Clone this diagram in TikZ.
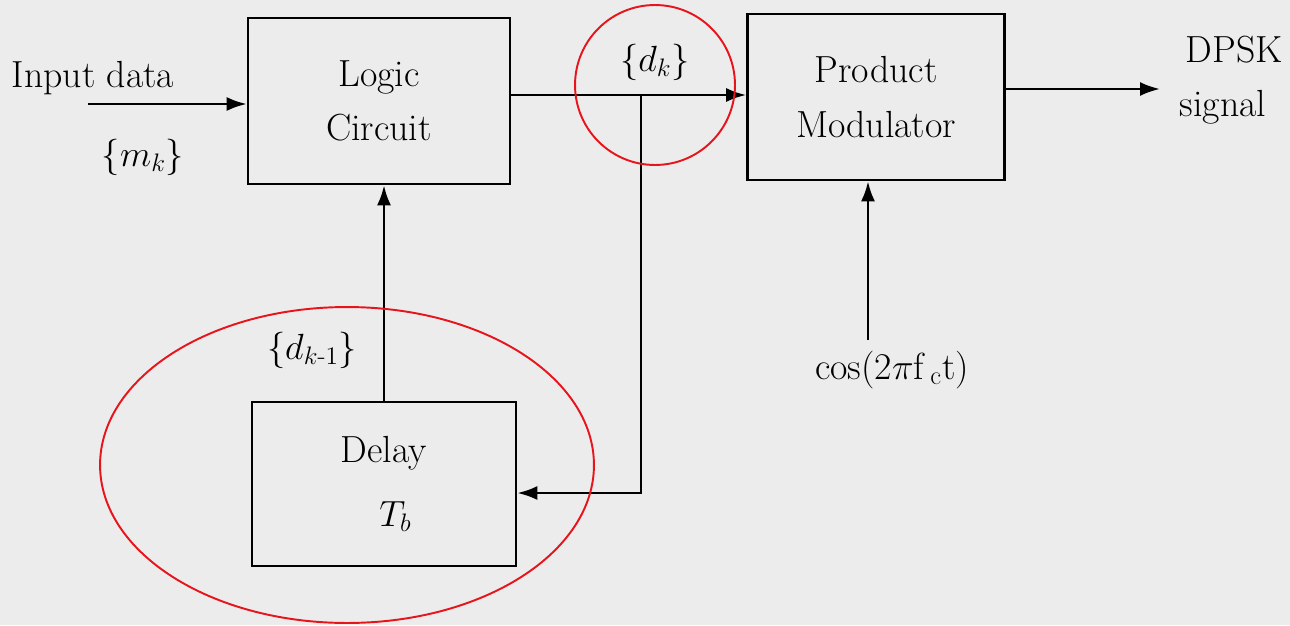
\documentclass[tikz,border=0pt]{standalone}
\usepackage{amsmath}
\usepackage{tikz}
\usetikzlibrary{arrows.meta,positioning,calc}
\definecolor{pagegray}{HTML}{ECECEC}
\definecolor{markred}{HTML}{E8141C}

\begin{document}
\begin{tikzpicture}[x=0.02cm,y=-0.02cm,
  font=\fontsize{21.5}{31}\selectfont,
  blockbox/.style={draw, line width=1.5pt, align=center, inner sep=0pt},
  arr/.style={-{Latex[length=4mm,width=2.8mm]}, line width=1.5pt}]
\fill[pagegray] (0,0) rectangle (1290,625);
\useasboundingbox (0,0) rectangle (1290,625);
% blocks
\node[blockbox, minimum width=5.24cm, minimum height=3.32cm] (logic) at (379,101) {Logic\\Circuit};
\node[blockbox, minimum width=5.14cm, minimum height=3.32cm] (pm) at (876,97) {Product\\Modulator};
\node[blockbox, minimum width=5.28cm, minimum height=3.28cm,
  font=\fontsize{21.5}{36}\selectfont] (delay) at (384,484) {Delay\\\ \ $T_b$};
% labels
\node (indata) at (93,78) {Input data};
\node (mk) at (143,157) {$\{m_k\}$};
\node (dk) at (655,62) {$\{d_k\}$};
\node (dkm) at (312,350) {$\{d_{k\text{-}1}\}$};
\node (carrier) at (892,370) {cos(2$\pi$f\,$_{\text{c}}$t)};
\node[align=center] (dpsk) at (1223,80) {\ \ DPSK\\signal};
% connectors
\coordinate (in) at (88,104);
\coordinate (split) at (641,95);
\coordinate (fb) at (641,493);
\coordinate (lo) at (868,340);
\coordinate (out) at (1160,89);
\draw[arr] (in) -- (in -| logic.west);
\draw[arr] (split -| logic.east) -- (split -| pm.west);
\draw[arr] (split) -- (fb) -- (fb -| delay.east);
\draw[arr] (delay.north) -- (delay.north |- logic.south);
\draw[arr] (lo) -- (lo |- pm.south);
\draw[arr] (out -| pm.east) -- (out);
% red marks
\draw[markred, line width=1.1pt] (655,85) circle [radius=1.6cm];
\draw[markred, line width=1.1pt] (347,465) ellipse [x radius=4.94cm, y radius=3.16cm];
\end{tikzpicture}
\end{document}
